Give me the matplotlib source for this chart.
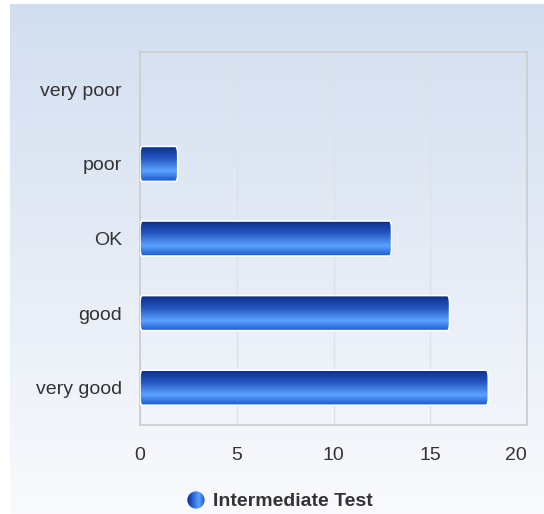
import numpy as np
import matplotlib
matplotlib.use("Agg")
from matplotlib import pyplot as plt
from matplotlib.colors import LinearSegmentedColormap
from matplotlib.patches import Circle, FancyBboxPatch

# Datos
categorias = ['very poor', 'poor', 'OK', 'good', 'very good']
valores = [0, 1.95, 13, 16, 18]
ticks_x = [0, 5, 10, 15, 20]
serie = 'Intermediate Test'

plt.rcParams['font.family'] = ['Liberation Sans', 'DejaVu Sans']

fig = plt.figure(figsize=(5.44, 5.14), dpi=100)

# Fondo degradado
fondo = fig.add_axes([10 / 544, 0, 1 - 10 / 544, 1 - 4 / 514], zorder=-10)
cmap_fondo = LinearSegmentedColormap.from_list('fondo', ['#d2deef', '#f9fafd'])
fondo.imshow(np.linspace(0, 1, 256).reshape(-1, 1), aspect='auto', cmap=cmap_fondo,
             extent=[0, 1, 0, 1])
fondo.axis('off')

ax = fig.add_axes([140 / 544, 1 - 425 / 514, 387 / 544, 373 / 514])
ax.patch.set_alpha(0)

y = np.arange(len(categorias))
barras = ax.barh(y, valores, height=0.47, color='none', edgecolor='none')

# Degradado de las barras
cmap_barra = LinearSegmentedColormap.from_list(
    'barra', [(0, '#0b2a86'), (0.35, '#2455c0'), (0.72, '#5aa2ff'), (1, '#1a57cc')])
grad = np.linspace(0, 1, 128).reshape(-1, 1)
for b in barras:
    x0, y0 = b.get_x(), b.get_y()
    w, h = b.get_width(), b.get_height()
    if w <= 0:
        continue
    caja = FancyBboxPatch((x0, y0), w, h, boxstyle='round,pad=0,rounding_size=0.12',
                          mutation_aspect=0.9, facecolor='none', edgecolor='white',
                          linewidth=1.2, zorder=4)
    ax.add_patch(caja)
    im = ax.imshow(grad, aspect='auto', cmap=cmap_barra, extent=[x0, x0 + w, y0 + h, y0],
                   zorder=3)
    im.set_clip_path(caja)

ax.set_xlim(0, 20)
ax.set_ylim(len(categorias) - 0.5, -0.5)

ax.set_yticks(y)
ax.set_yticklabels(categorias)
ax.set_xticks(ticks_x)
ax.set_xticklabels([str(t) for t in ticks_x])
ax.tick_params(length=0, labelsize=14, labelcolor='#333333')
ax.tick_params(axis='x', pad=16)
ax.tick_params(axis='y', pad=13)
ax.xaxis.get_ticklabels()[-1].set_horizontalalignment('right')

ax.grid(axis='x', color='#dce2ea', linewidth=1)
ax.set_axisbelow(True)
for s in ax.spines.values():
    s.set_color('#cccccc')
    s.set_linewidth(1.2)

# Leyenda
ley = fig.add_axes([187 / 544, 1 - 509 / 514, 18 / 544, 18 / 514])
ley.set_xlim(0, 1)
ley.set_ylim(0, 1)
ley.axis('off')
cmap_ley = LinearSegmentedColormap.from_list('ley', ['#0b2a86', '#2a64d8', '#5aa2ff', '#1a57cc'])
circ = Circle((0.5, 0.5), 0.48, transform=ley.transData, facecolor='none', edgecolor='none')
ley.add_patch(circ)
im = ley.imshow(np.linspace(0, 1, 64).reshape(1, -1), aspect='auto', cmap=cmap_ley,
                extent=[0, 1, 0, 1])
im.set_clip_path(circ)
fig.text(213 / 544, 1 - 501 / 514, serie, fontsize=14, fontweight='bold',
         color='#333333', va='center', ha='left')

plt.savefig('out.png', dpi=100)
